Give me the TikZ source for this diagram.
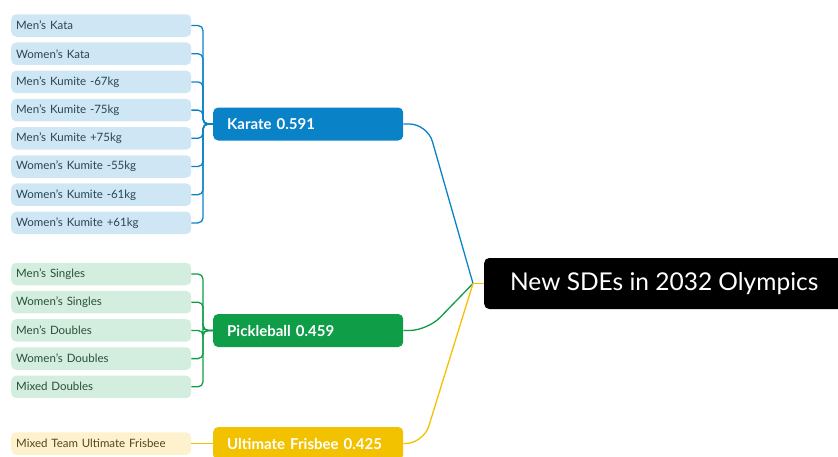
\documentclass[tikz,border=0pt]{standalone}
\usepackage{fontspec}
\setmainfont{Lato}
\definecolor{kblue}{HTML}{0A82C8}
\definecolor{kleaf}{HTML}{CFE7F4}
\definecolor{pgreen}{HTML}{0F9D48}
\definecolor{pleaf}{HTML}{D3EEDE}
\definecolor{fyellow}{HTML}{F2C200}
\definecolor{fleaf}{HTML}{FDF1CE}
\definecolor{leaftext}{HTML}{2A4552}
\definecolor{pleaftext}{HTML}{2A5038}
\definecolor{fleaftext}{HTML}{54461E}
\tikzset{
  leaf/.style={rectangle, rounded corners=5pt, minimum height=22.5pt, text width=170pt,
    inner xsep=5pt, inner ysep=0pt, align=left, anchor=west, font=\fontsize{11.5}{13}\selectfont},
  kleafs/.style={leaf, fill=kleaf, text=leaftext},
  pleafs/.style={leaf, fill=pleaf, text=pleaftext},
  fleafs/.style={leaf, fill=fleaf, text=fleaftext},
  branch/.style={rectangle, rounded corners=5pt, minimum height=33pt, text width=162pt,
    inner xsep=14pt, inner ysep=0pt, align=left, anchor=west, text=white,
    font=\fontsize{15}{17}\selectfont\bfseries},
  rootbox/.style={rectangle, rounded corners=5pt, fill=black, text=white, minimum height=51pt,
    minimum width=360pt, anchor=west, font=\fontsize{24.5}{26}\selectfont},
  link/.style={line width=1.3pt, rounded corners=5pt},
  trunk/.style={line width=1.3pt, rounded corners=18pt},
}
\begin{document}
\begin{tikzpicture}[x=1pt,y=-1pt]
\useasboundingbox (0,0) rectangle (838,456);
% root
\node[rootbox] (root) at (484,283.5) {New SDEs in 2032 Olympics};
\coordinate (hub) at (473,283.5);
% branches
\node[branch, fill=kblue] (karate) at (213,124) {Karate 0.591};
\node[branch, fill=pgreen] (pickle) at (213,330.5) {Pickleball 0.459};
\node[branch, fill=fyellow] (frisbee) at (213,443.5) {Ultimate Frisbee 0.425};
% karate leaves
\node[kleafs] (k1) at (11,25.5) {Men's Kata};
\node[kleafs] (k2) at (11,53.7) {Women's Kata};
\node[kleafs] (k3) at (11,81.9) {Men's Kumite -67kg};
\node[kleafs] (k4) at (11,110.1) {Men's Kumite -75kg};
\node[kleafs] (k5) at (11,138.3) {Men's Kumite +75kg};
\node[kleafs] (k6) at (11,166.5) {Women's Kumite -55kg};
\node[kleafs] (k7) at (11,194.7) {Women's Kumite -61kg};
\node[kleafs] (k8) at (11,222.9) {Women's Kumite +61kg};
% pickleball leaves
\node[pleafs] (p1) at (11,274) {Men's Singles};
\node[pleafs] (p2) at (11,302.2) {Women's Singles};
\node[pleafs] (p3) at (11,330.4) {Men's Doubles};
\node[pleafs] (p4) at (11,358.6) {Women's Doubles};
\node[pleafs] (p5) at (11,386.8) {Mixed Doubles};
% frisbee leaf
\node[fleafs] (f1) at (11,443.5) {Mixed Team Ultimate Frisbee};
% brackets
\coordinate (kb) at (203,124);
\coordinate (pb) at (203,330.5);
\foreach \n in {k1,k2,k3,k4,k5,k6,k7,k8}
  \draw[link, kblue] (\n.east) -- (\n.east -| kb) -- (kb) -- (karate.west);
\foreach \n in {p1,p2,p3,p4,p5}
  \draw[link, pgreen] (\n.east) -- (\n.east -| pb) -- (pb) -- (pickle.west);
\draw[link, fyellow] (f1.east) -- (frisbee.west);
% trunk connectors
\draw[trunk, kblue] (karate.east) -- ++(24,0) -- (hub);
\draw[trunk, pgreen] (pickle.east) -- ++(24,0) -- (hub);
\draw[trunk, fyellow] (frisbee.east) -- ++(20,0) -- (hub);
\draw[line width=1.3pt, fyellow] (hub) -- (root.west);
\end{tikzpicture}
\end{document}
